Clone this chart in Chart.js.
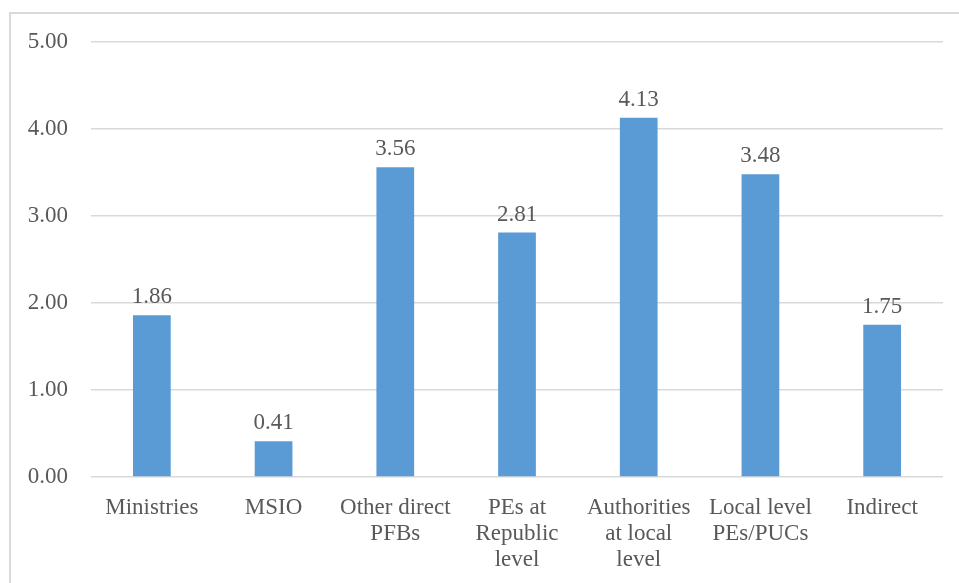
<!DOCTYPE html>
<html>
<head>
<meta charset="utf-8">
<script src="https://cdn.jsdelivr.net/npm/chart.js@4/dist/chart.umd.min.js"></script>
<style>
  html, body { margin: 0; padding: 0; background: #ffffff; }
  #wrap { position: relative; width: 959px; height: 583px; overflow: hidden; }
  canvas { display: block; }
</style>
</head>
<body>
<div id="wrap"><canvas id="chart" width="959" height="583"></canvas></div>
<script>
// Categories (multi-line labels) and values
const categories = [
  ["Ministries"],
  ["MSIO"],
  ["Other direct", "PFBs"],
  ["PEs at", "Republic", "level"],
  ["Authorities", "at local", "level"],
  ["Local level", "PEs/PUCs"],
  ["Indirect"]
];
const values = [1.86, 0.41, 3.56, 2.81, 4.13, 3.48, 1.75];
const yTicks = [0, 1, 2, 3, 4, 5];

const TEXT = '#595959';
const GRID = '#d9d9d9';
const BAR = '#5b9bd5';
const FONT = '"Liberation Serif", "Times New Roman", serif';
const SIZE = 23;

// Outer frame around the chart
const framePlugin = {
  id: 'frame',
  beforeDraw(chart) {
    const ctx = chart.ctx;
    ctx.save();
    ctx.strokeStyle = GRID;
    ctx.lineWidth = 2;
    ctx.strokeRect(10, 13, 1000, 1000);
    ctx.restore();
  }
};

// Value labels above each bar
const valueLabels = {
  id: 'valueLabels',
  afterDatasetsDraw(chart) {
    const ctx = chart.ctx;
    const meta = chart.getDatasetMeta(0);
    ctx.save();
    ctx.fillStyle = TEXT;
    ctx.font = SIZE + 'px ' + FONT;
    ctx.textAlign = 'center';
    ctx.textBaseline = 'middle';
    meta.data.forEach((bar, i) => {
      ctx.fillText(values[i].toFixed(2), bar.x, bar.y - 18);
    });
    ctx.restore();
  }
};

new Chart(document.getElementById('chart'), {
  type: 'bar',
  data: {
    labels: categories,
    datasets: [{
      data: values,
      backgroundColor: BAR,
      borderWidth: 0,
      barPercentage: 0.31,
      categoryPercentage: 1
    }]
  },
  options: {
    responsive: false,
    animation: false,
    devicePixelRatio: 1,
    layout: { padding: { left: 10, right: 16, top: 42, bottom: 0 } },
    plugins: { legend: { display: false }, tooltip: { enabled: false } },
    scales: {
      x: {
        grid: { display: false },
        border: { display: false },
        ticks: {
          color: TEXT,
          font: { family: FONT, size: SIZE, lineHeight: 26 / SIZE },
          padding: 10,
          maxRotation: 0,
          autoSkip: false
        },
        afterFit(scale) { scale.height = 106; }
      },
      y: {
        min: 0,
        max: 5,
        afterBuildTicks(scale) { scale.ticks = yTicks.map(v => ({ value: v })); },
        grid: { color: GRID, lineWidth: 1.5, drawTicks: false },
        border: { display: false },
        ticks: {
          color: TEXT,
          font: { family: FONT, size: SIZE },
          padding: 23,
          callback: v => Number(v).toFixed(2)
        },
        afterFit(scale) { scale.width = 81; }
      }
    }
  },
  plugins: [framePlugin, valueLabels]
});
</script>
</body>
</html>
